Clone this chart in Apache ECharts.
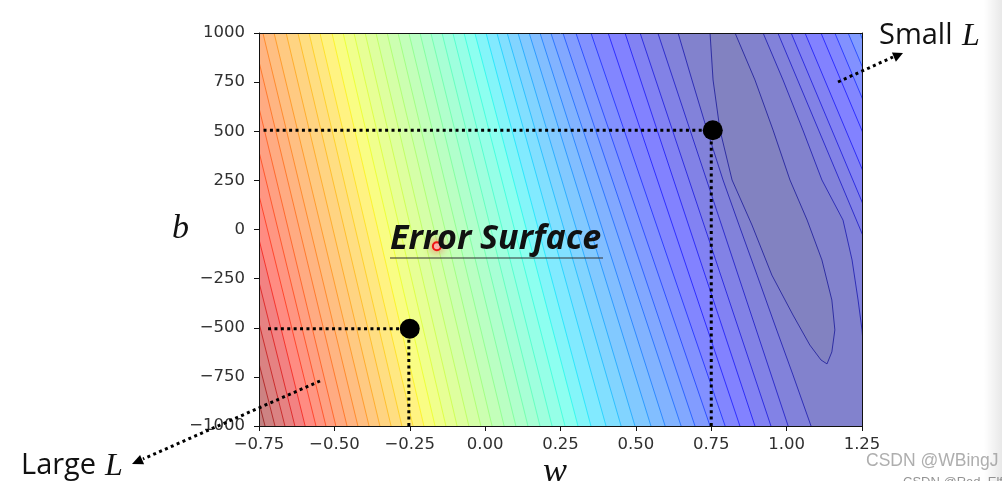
<!DOCTYPE html>
<html><head><meta charset="utf-8">
<script src="https://cdn.jsdelivr.net/npm/echarts@6/dist/echarts.min.js"></script>
<style>html,body{margin:0;padding:0;background:#fff;}#c{width:1002px;height:481px;}</style>
</head><body><div id="c"></div>
<script>
// ---- axis ticks ----
const xTicks = [-0.75, -0.5, -0.25, 0, 0.25, 0.5, 0.75, 1, 1.25];
const yTicks = [-1000, -750, -500, -250, 0, 250, 500, 750, 1000];

// ---- contour lines (w where each line meets b = 1000 / b = -1000) ----
// left-hand arms, levels 2..44
const leftArmTopW = [0.573, 0.514, 0.464, 0.408, 0.351, 0.301, 0.258, 0.218, 0.182, 0.146, 0.109, 0.073, 0.039, 0.003, -0.034, -0.070, -0.107, -0.143, -0.180, -0.216, -0.253, -0.289, -0.325, -0.362, -0.398, -0.435, -0.471, -0.508, -0.548, -0.584, -0.621, -0.660, -0.700, -0.737, -0.773, -0.810, -0.846, -0.883, -0.919, -0.956, -0.992, -1.029, -1.065];
const leftArmBottomW = [1.005, 0.948, 0.895, 0.845, 0.796, 0.746, 0.696, 0.650, 0.597, 0.550, 0.497, 0.451, 0.401, 0.351, 0.308, 0.265, 0.222, 0.182, 0.142, 0.102, 0.063, 0.023, -0.014, -0.054, -0.093, -0.130, -0.166, -0.203, -0.239, -0.276, -0.312, -0.349, -0.385, -0.422, -0.458, -0.495, -0.528, -0.561, -0.597, -0.631, -0.664, -0.697, -0.730];
// right-hand arms, levels 2..8
const rightArmTopW = [0.971, 1.015, 1.061, 1.114, 1.160, 1.204, 1.243];
const rightArmBottomW = [1.518, 1.562, 1.608, 1.661, 1.707, 1.751, 1.790];
// innermost contours (curved), [w, b]
const contour0Left = [[0.746,1000],[0.756,761],[0.779,506],[0.819,252],[0.885,23],[0.951,-232],[1.021,-435],[1.077,-588],[1.114,-664],[1.134,-684]];
const contour0Right = [[0.829,1000],[0.895,761],[0.955,506],[1.011,252],[1.068,48],[1.117,-155],[1.150,-359],[1.160,-511],[1.150,-623],[1.134,-684]];
const contour1Left = [[0.640,1000],[0.686,761],[0.736,506],[0.789,252],[0.842,23],[0.902,-232],[0.961,-486],[1.021,-740],[1.081,-1000]];
const contour1Right = [[0.922,1000],[0.988,761],[1.054,506],[1.117,252],[1.187,48],[1.217,-155],[1.237,-359],[1.250,-511],[1.270,-868],[1.283,-1000]];

// ---- annotation points ----
const pointSmall = [[0.755, 505]];
const pointLarge = [[-0.25, -505]];
const pointStart = [[-0.16, -85]];
const guideSmallH = [[-0.735, 505], [0.755, 505]];
const guideSmallV = [[0.75, -1000], [0.75, 505]];
const guideLargeH = [[-0.72, -505], [-0.25, -505]];
const guideLargeV = [[-0.253, -1000], [-0.253, -505]];

const W_MIN = -0.75, W_MAX = 1.25, B_MIN = -1000, B_MAX = 1000;
const TOP_LEVEL = 45;

// ---- build contour regions ----
const contours = [];
const c0 = contour0Left.concat(contour0Right.slice().reverse());
contours[0] = { poly: c0, lines: [c0] };
contours[1] = { poly: contour1Left.concat(contour1Right.slice().reverse()), lines: [contour1Left, contour1Right] };
for (let i = 0; i < leftArmTopW.length; i++) {
  const k = i + 2;
  const left = [[leftArmTopW[i], B_MAX], [leftArmBottomW[i], B_MIN]];
  const lines = [left];
  let poly;
  if (i < rightArmTopW.length) {
    const right = [[rightArmTopW[i], B_MAX], [rightArmBottomW[i], B_MIN]];
    poly = left.concat(right.slice().reverse());
    lines.push(right);
  } else {
    poly = left.concat([[W_MAX, B_MIN], [W_MAX, B_MAX]]);
  }
  contours[k] = { poly, lines };
}
contours[TOP_LEVEL] = { poly: [[W_MIN,B_MAX],[W_MAX,B_MAX],[W_MAX,B_MIN],[W_MIN,B_MIN]], lines: [] };
const drawOrder = [];
for (let k = TOP_LEVEL; k >= 0; k--) drawOrder.push([k]);

// ---- jet colormap ----
const JET = {
  r: [[0,0],[0.35,0],[0.66,1],[0.89,1],[1,0.5]],
  g: [[0,0],[0.125,0],[0.375,1],[0.64,1],[0.91,0],[1,0]],
  b: [[0,0.5],[0.11,1],[0.34,1],[0.65,0],[1,0]]
};
function seg(p, t) {
  for (let i = 1; i < p.length; i++) {
    if (t <= p[i][0]) { const a = p[i-1], b = p[i]; return a[1] + (b[1]-a[1]) * (t-a[0]) / (b[0]-a[0]); }
  }
  return p[p.length-1][1];
}
function jet(t) { return [seg(JET.r,t), seg(JET.g,t), seg(JET.b,t)]; }
function mix(c, a) { return 'rgb(' + c.map(v => Math.round(255 * (v*a + (1-a)))).join(',') + ')'; }

function renderItem(params, api) {
  const k = api.value(0);
  const c = contours[k];
  const children = [{
    type: 'polygon',
    shape: { points: c.poly.map(p => api.coord(p)) },
    style: { fill: mix(jet(k / TOP_LEVEL), 0.49), stroke: null }
  }];
  c.lines.forEach(l => children.push({
    type: 'polyline',
    shape: { points: l.map(p => api.coord(p)) },
    style: { stroke: mix(jet((k + 0.5) / TOP_LEVEL), 0.85), lineWidth: 1, fill: null, opacity: 0.9 }
  }));
  return { type: 'group', children };
}

const minus = s => String(s).replace('-', '\u2212');
const labelFont = { fontFamily: 'DejaVu Sans', fontSize: 16.5, color: '#303030' };
const dotted = { color: '#000', width: 3, type: [3, 3.4], cap: 'butt' };

const chart = echarts.init(document.getElementById('c'));
chart.setOption({
  animation: false,
  backgroundColor: '#fff',
  grid: { left: 259, right: 140, top: 33, bottom: 55 },
  xAxis: [{
    type: 'value', min: W_MIN, max: W_MAX, interval: 0.25, position: 'bottom', z: 10,
    axisLine: { show: true, onZero: false, lineStyle: { color: '#111', width: 1 } },
    axisTick: { show: true, length: 5, lineStyle: { color: '#111' }, customValues: xTicks },
    axisLabel: Object.assign({ margin: 10, customValues: xTicks, formatter: v => minus(Number(v).toFixed(2)) }, labelFont),
    splitLine: { show: false }
  }, {
    type: 'value', min: W_MIN, max: W_MAX, position: 'top', z: 10,
    axisLine: { show: true, onZero: false, lineStyle: { color: '#111', width: 1 } },
    axisTick: { show: false }, axisLabel: { show: false }, splitLine: { show: false }
  }],
  yAxis: [{
    type: 'value', min: B_MIN, max: B_MAX, interval: 250, position: 'left', z: 10,
    axisLine: { show: true, onZero: false, lineStyle: { color: '#111', width: 1 } },
    axisTick: { show: true, length: 5, lineStyle: { color: '#111' }, customValues: yTicks },
    axisLabel: Object.assign({ margin: 14, customValues: yTicks, formatter: v => minus(v) }, labelFont),
    splitLine: { show: false }
  }, {
    type: 'value', min: B_MIN, max: B_MAX, position: 'right', z: 10,
    axisLine: { show: true, onZero: false, lineStyle: { color: '#111', width: 1 } },
    axisTick: { show: false }, axisLabel: { show: false }, splitLine: { show: false }
  }],
  series: [
    { type: 'custom', coordinateSystem: 'cartesian2d', renderItem, data: drawOrder, clip: true, silent: true, z: 1 },
    { type: 'line', data: guideSmallH, symbol: 'none', lineStyle: dotted, silent: true, z: 3 },
    { type: 'line', data: guideSmallV, symbol: 'none', lineStyle: dotted, silent: true, z: 3 },
    { type: 'line', data: guideLargeH, symbol: 'none', lineStyle: dotted, silent: true, z: 3 },
    { type: 'line', data: guideLargeV, symbol: 'none', lineStyle: dotted, silent: true, z: 3 },
    { type: 'scatter', data: pointSmall.concat(pointLarge), symbolSize: 20, itemStyle: { color: '#000', opacity: 1 }, silent: true, z: 4 },
    { type: 'scatter', data: pointStart, symbolSize: 8, silent: true, z: 4,
      itemStyle: { color: 'rgba(255,200,200,0.9)', borderColor: '#ee1515', borderWidth: 2, shadowBlur: 10, shadowColor: 'rgba(255,60,60,0.8)', opacity: 1 } }
  ],
  graphic: [
    { type: 'rect', shape: { x: 984, y: 0, width: 18, height: 481 }, silent: true,
      style: { fill: new echarts.graphic.LinearGradient(0, 0, 1, 0, [{ offset: 0, color: 'rgba(0,0,0,0)' }, { offset: 1, color: 'rgba(0,0,0,0.09)' }]) } },
    { type: 'text', x: 390, y: 239, z: 20, style: { text: 'Error Surface', font: 'italic bold 34px "Open Sans"', fill: '#111', textVerticalAlign: 'middle', verticalAlign: 'middle' } },
    { type: 'line', z: 20, shape: { x1: 390, y1: 258, x2: 603, y2: 258 }, style: { stroke: '#333', lineWidth: 1.2 } },
    { type: 'text', x: 172, y: 229, z: 20, style: { text: 'b', font: 'italic 34px "Liberation Serif"', fill: '#111', textVerticalAlign: 'middle', verticalAlign: 'middle' } },
    { type: 'text', x: 543, y: 473, z: 20, style: { text: 'w', font: 'italic 36px "Liberation Serif"', fill: '#111', textVerticalAlign: 'middle', verticalAlign: 'middle' } },
    { type: 'text', x: 879, y: 36, z: 20, style: { text: 'Small', font: '29px "Open Sans"', fill: '#111', textVerticalAlign: 'middle', verticalAlign: 'middle' } },
    { type: 'text', x: 962, y: 37, z: 20, style: { text: 'L', font: 'italic 32px "Liberation Serif"', fill: '#111', textVerticalAlign: 'middle', verticalAlign: 'middle' } },
    { type: 'text', x: 21, y: 466, z: 20, style: { text: 'Large', font: '29px "Open Sans"', fill: '#111', textVerticalAlign: 'middle', verticalAlign: 'middle' } },
    { type: 'text', x: 105, y: 467, z: 20, style: { text: 'L', font: 'italic 32px "Liberation Serif"', fill: '#111', textVerticalAlign: 'middle', verticalAlign: 'middle' } },
    { type: 'polyline', z: 20, shape: { points: [[838, 82], [893, 57]] }, style: { stroke: '#000', lineWidth: 3, lineDash: [3, 3.4], fill: null } },
    { type: 'polygon', z: 20, shape: { points: [[903, 53], [895.9, 61.7], [891.9, 52.5]] }, style: { fill: '#000' } },
    { type: 'polyline', z: 20, shape: { points: [[320, 381], [143, 459]] }, style: { stroke: '#000', lineWidth: 3, lineDash: [3, 3.4], fill: null } },
    { type: 'polygon', z: 20, shape: { points: [[132, 464], [144.1, 464.2], [140.1, 455.0]] }, style: { fill: '#000' } },
    { type: 'text', x: 866, y: 461, z: 20, style: { text: 'CSDN @WBingJ', font: '17.5px "Liberation Sans"', fill: 'rgba(160,160,160,0.85)', textVerticalAlign: 'middle', verticalAlign: 'middle' } },
    { type: 'text', x: 903, y: 482, z: 20, style: { text: 'CSDN @Red_Elf', font: '13px "Liberation Sans"', fill: 'rgba(120,120,120,0.8)', textVerticalAlign: 'middle', verticalAlign: 'middle' } }
  ]
});
</script>
</body></html>
